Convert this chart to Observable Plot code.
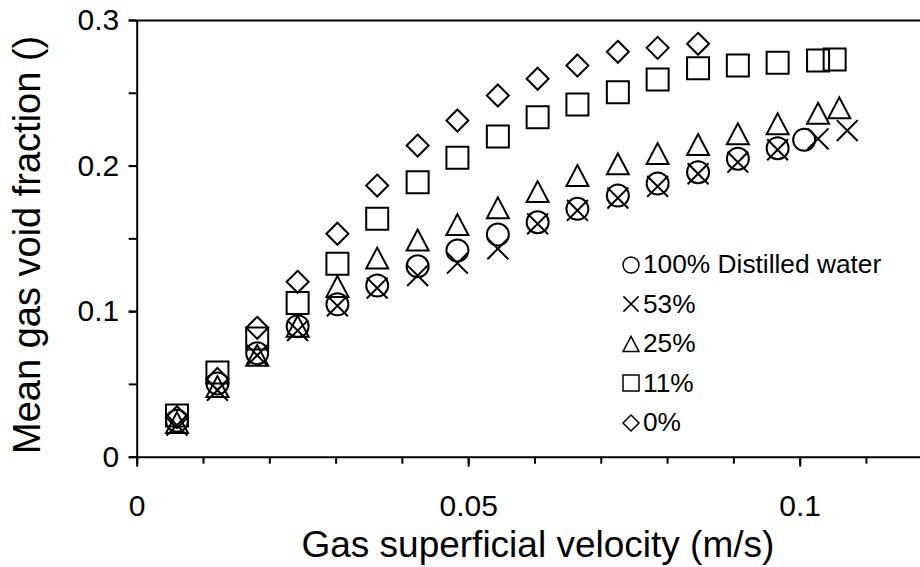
<!DOCTYPE html>
<html><head><meta charset="utf-8">
<script src="https://cdn.jsdelivr.net/npm/d3@7"></script>
<script src="https://cdn.jsdelivr.net/npm/@observablehq/plot@0.6"></script>
<style>
html,body{margin:0;padding:0;background:#fff;}
#wrap{position:relative;width:920px;height:567px;font-family:"Liberation Sans",Arial,sans-serif;overflow:hidden;}
#legend{position:absolute;left:620.7px;top:245.3px;}
.row{display:flex;align-items:center;height:39.4px;font-size:26.3px;color:#000;white-space:nowrap;}
.row svg{display:block;margin-right:2.3px;}
</style></head><body><div id="wrap"><div id="legend"></div></div>
<script>
// ---- data ----
const seriesNames = ["100% Distilled water", "53%", "25%", "11%", "0%"];

const waterX = [0.0060,0.0121,0.0181,0.0242,0.0302,0.0362,0.0423,0.0483,0.0544,0.0604,0.0664,0.0725,0.0785,0.0846,0.0906,0.0966,0.1006];
const waterY = [0.025,0.0506,0.0714,0.090,0.105,0.118,0.1312,0.142,0.153,0.1614,0.1706,0.1798,0.188,0.1958,0.205,0.2123,0.218];

const p53X = [0.0060,0.0121,0.0181,0.0242,0.0302,0.0362,0.0423,0.0483,0.0544,0.0604,0.0664,0.0725,0.0785,0.0846,0.0906,0.0966,0.1027,0.1071];
const p53Y = [0.022,0.046,0.070,0.087,0.104,0.1162,0.1248,0.1333,0.1432,0.1603,0.1695,0.178,0.186,0.1947,0.2027,0.2112,0.2187,0.2244];

const p25X = [0.0060,0.0121,0.0181,0.0242,0.0302,0.0362,0.0423,0.0483,0.0544,0.0604,0.0664,0.0725,0.0785,0.0846,0.0906,0.0966,0.1027,0.1059];
const p25Y = [0.0238,0.0485,0.070,0.090,0.1173,0.1368,0.1492,0.1598,0.1713,0.1825,0.1935,0.2015,0.2086,0.2148,0.2222,0.229,0.2363,0.240];

const p11X = [0.0060,0.0121,0.0181,0.0242,0.0302,0.0362,0.0423,0.0483,0.0544,0.0604,0.0664,0.0725,0.0785,0.0846,0.0906,0.0966,0.1027,0.1052];
const p11Y = [0.0287,0.0582,0.0815,0.106,0.1329,0.1638,0.1889,0.2057,0.2203,0.2336,0.2423,0.2507,0.2595,0.2672,0.2691,0.2709,0.2725,0.2732];

const p0X = [0.0060,0.0121,0.0181,0.0242,0.0302,0.0362,0.0423,0.0483,0.0544,0.0604,0.0664,0.0725,0.0785,0.0846];
const p0Y = [0.0275,0.0538,0.0889,0.1205,0.1535,0.1866,0.2141,0.2313,0.2485,0.260,0.2691,0.2785,0.2812,0.284];

const xMajorTicks = [0, 0.05, 0.1];
const xTickLabels = ["0", "0.05", "0.1"];
const xMinorTicks = [0,0.01,0.02,0.03,0.04,0.05,0.06,0.07,0.08,0.09,0.1,0.11];
const yMajorTicks = [0, 0.1, 0.2, 0.3];
const yTickLabels = ["0", "0.1", "0.2", "0.3"];
const yMinorTicks = [0,0.05,0.1,0.15,0.2,0.25,0.3];
const xTitle = "Gas superficial velocity (m/s)";
const yTitle = "Mean gas void fraction ()";

// ---- symbols ----
const rad = s => Math.sqrt(s / Math.PI);
const symbols = {
  circle: {draw(c, s){ const r = rad(s); c.moveTo(r,0); c.arc(0,0,r,0,2*Math.PI); }},
  cross: {draw(c, s){ const r = rad(s)*0.95; c.moveTo(-r,-r); c.lineTo(r,r); c.moveTo(-r,r); c.lineTo(r,-r); }},
  triangle: {draw(c, s){ const r = rad(s), h = r*0.95; c.moveTo(0,-h); c.lineTo(r,h); c.lineTo(-r,h); c.closePath(); }},
  square: {draw(c, s){ const r = rad(s); c.moveTo(-r,-r); c.lineTo(r,-r); c.lineTo(r,r); c.lineTo(-r,r); c.closePath(); }},
  diamond: {draw(c, s){ const r = rad(s); c.moveTo(0,-r); c.lineTo(r,0); c.lineTo(0,r); c.lineTo(-r,0); c.closePath(); }}
};
const symbolOrder = ["circle","cross","triangle","square","diamond"];

const series = [
  [waterX, waterY], [p53X, p53Y], [p25X, p25Y], [p11X, p11Y], [p0X, p0Y]
].map(([xs, ys], i) => ({name: seriesNames[i], sym: symbols[symbolOrder[i]], data: xs.map((x, j) => ({x, y: ys[j]}))}));

const dotMarks = series.map(s => Plot.dot(s.data, {
  x: "x", y: "y", r: 11, symbol: s.sym, fill: "none", stroke: "#000", strokeWidth: 2
}));

const chart = Plot.plot({
  width: 920, height: 567,
  marginLeft: 136.7, marginRight: 0, marginTop: 20, marginBottom: 110.3,
  x: {domain: [0, 0.11815], label: null},
  y: {domain: [0, 0.3], label: null},
  style: {fontFamily: "Liberation Sans, Arial, sans-serif", fontSize: "30px", color: "#000", background: "#fff", overflow: "visible"},
  marks: [
    Plot.axisX({ticks: xMinorTicks, tickSize: 7, tickFormat: () => "", strokeWidth: 2, label: null}),
    Plot.axisX({ticks: xMajorTicks, tickSize: 10, tickPadding: 27, strokeWidth: 2, label: null, fontSize: 30,
      tickFormat: d => xTickLabels[xMajorTicks.indexOf(d)]}),
    Plot.axisY({ticks: yMinorTicks, tickSize: 8, tickFormat: () => "", strokeWidth: 2, label: null}),
    Plot.axisY({ticks: yMajorTicks, tickSize: 8, tickPadding: 10, strokeWidth: 2, label: null, fontSize: 30,
      tickFormat: d => yTickLabels[yMajorTicks.indexOf(d)]}),
    Plot.ruleY([0], {stroke: "#000", strokeWidth: 2}),
    Plot.ruleY([0.3], {stroke: "#000", strokeWidth: 2}),
    Plot.ruleX([0], {stroke: "#000", strokeWidth: 2}),
    ...dotMarks,
    Plot.text([xTitle], {text: d => d, frameAnchor: "bottom", textAnchor: "middle", dx: 9, dy: 88, fontSize: 37, lineAnchor: "middle", fill: "#000"}),
    Plot.text([yTitle], {text: d => d, frameAnchor: "left", textAnchor: "middle", rotate: -90, dx: -109, dy: 6, fontSize: 38, lineAnchor: "middle", fill: "#000"})
  ]
});
document.getElementById("wrap").prepend(chart);

// ---- legend ----
const legend = document.getElementById("legend");
series.forEach(s => {
  const row = document.createElement("div");
  row.className = "row";
  const p = d3.path();
  const r = 8;
  s.sym.draw(p, r*r*Math.PI);
  row.innerHTML = `<svg width="20" height="20" viewBox="-10 -10 20 20"><path d="${p.toString()}" fill="none" stroke="#000" stroke-width="1.5"/></svg><span>${s.name}</span>`;
  legend.appendChild(row);
});
</script>
</body></html>
